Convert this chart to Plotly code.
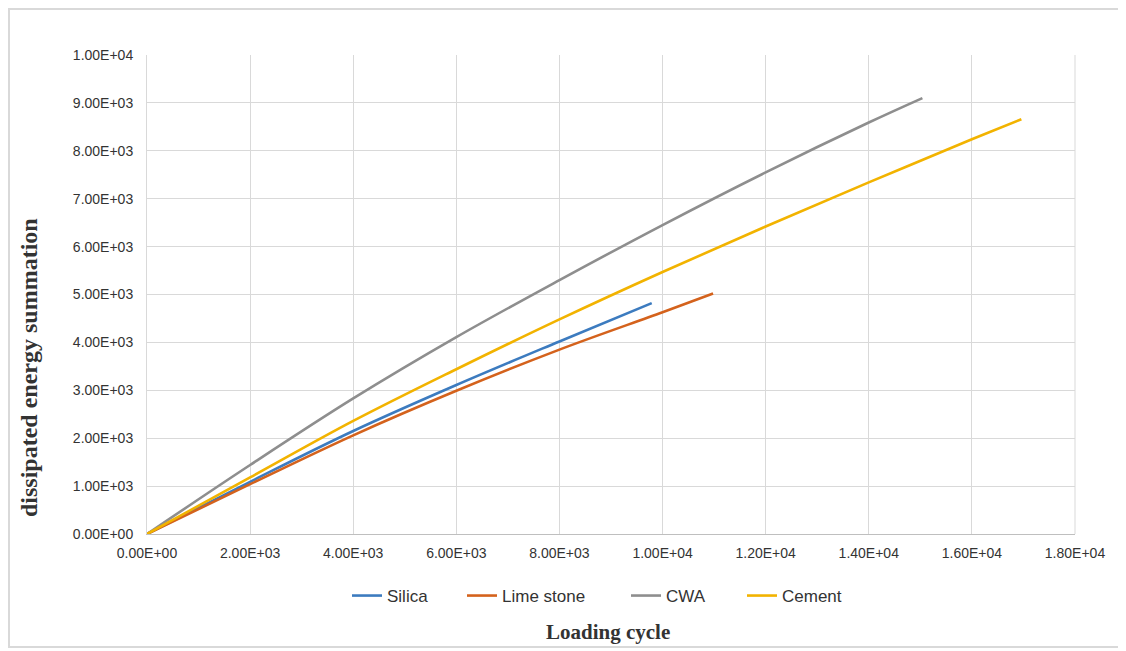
import plotly.graph_objects as go

# Data
silica_x = [0, 2000, 4000, 6000, 8000, 9790]
silica_y = [0, 1090, 2150, 3110, 4020, 4820]

lime_x = [0, 2000, 4000, 6000, 8000, 10000, 10980]
lime_y = [0, 1040, 2060, 2990, 3850, 4630, 5020]

cwa_x = [0, 2000, 4000, 6000, 8000, 10000, 12000, 14000, 15040]
cwa_y = [0, 1440, 2830, 4110, 5300, 6450, 7550, 8590, 9100]

cement_x = [0, 2000, 4000, 6000, 8000, 10000, 12000, 14000, 16000, 16960]
cement_y = [0, 1180, 2360, 3440, 4480, 5470, 6420, 7340, 8240, 8660]

x_ticks = [0, 2000, 4000, 6000, 8000, 10000, 12000, 14000, 16000, 18000]
y_ticks = [0, 1000, 2000, 3000, 4000, 5000, 6000, 7000, 8000, 9000, 10000]

series = [
    ("Silica", silica_x, silica_y, "#3C7BBF"),
    ("Lime stone", lime_x, lime_y, "#D4621C"),
    ("CWA", cwa_x, cwa_y, "#8E8E8E"),
    ("Cement", cement_x, cement_y, "#F2B300"),
]

W, H = 1118, 643
L, R, T, B = 139, 51, 47, 117
PW = W - L - R
PH = H - T - B

def px(fx):
    return (fx - L) / PW

def py(fy):
    return (H - B - fy) / PH

legend_ids = ["legend", "legend2", "legend3", "legend4"]
legend_left = [345, 460, 624, 740]  # figure px where each legend entry starts

fig = go.Figure()
for (name, xs, ys, col), lid in zip(series, legend_ids):
    fig.add_trace(go.Scatter(x=xs, y=ys, mode="lines", name=name, legend=lid,
                             line=dict(color=col, width=2.6, shape="spline", smoothing=1.0)))

tick_font = dict(family="Liberation Sans, Arial, sans-serif", size=14, color="#333333")
leg_font = dict(family="Liberation Sans, Arial, sans-serif", size=17, color="#333333")
grid = "#d9d9d9"

legends = {}
for lid, lx in zip(legend_ids, legend_left):
    legends[lid] = dict(orientation="h", x=px(lx - 6), xanchor="left", y=py(588), yanchor="middle",
                        font=leg_font, bgcolor="rgba(0,0,0,0)", itemwidth=30)

fig.update_layout(
    width=W, height=H,
    margin=dict(l=L, r=R, t=T, b=B),
    paper_bgcolor="white", plot_bgcolor="white",
    showlegend=True,
    xaxis=dict(range=[0, 18000], tickvals=x_ticks,
               ticktext=[f"{v:.2E}" for v in x_ticks],
               showgrid=True, gridcolor=grid, gridwidth=1,
               showline=True, linecolor="#bfbfbf", linewidth=1,
               zeroline=False, ticks="outside", ticklen=6, tickcolor="rgba(0,0,0,0)",
               tickfont=tick_font, fixedrange=True),
    yaxis=dict(range=[0, 10000], tickvals=y_ticks,
               ticktext=[f"{v:.2E}" for v in y_ticks],
               showgrid=True, gridcolor=grid, gridwidth=1,
               showline=True, linecolor="#d9d9d9", linewidth=1,
               zeroline=False, ticks="outside", ticklen=10, tickcolor="rgba(0,0,0,0)",
               tickfont=tick_font, fixedrange=True),
    annotations=[
        dict(text="<b>Loading cycle</b>", xref="paper", yref="paper",
             x=px(600), y=py(624), xanchor="center", yanchor="middle",
             showarrow=False, font=dict(family="Liberation Serif, Times New Roman, serif", size=21, color="#333333")),
        dict(text="<b>dissipated energy summation</b>", xref="paper", yref="paper",
             x=px(21), y=py(360), xanchor="center", yanchor="middle",
             textangle=-90, showarrow=False,
             font=dict(family="Liberation Serif, Times New Roman, serif", size=24, color="#333333")),
    ],
    shapes=[
        dict(type="rect", xref="paper", yref="paper",
             x0=px(1), x1=px(W - 4), y0=py(H - 4), y1=py(1),
             line=dict(color="#d9d9d9", width=2), fillcolor="rgba(0,0,0,0)", layer="below"),
        dict(type="line", xref="paper", yref="paper", x0=1, x1=1, y0=0, y1=1,
             line=dict(color=grid, width=1)),
    ],
    **legends,
)

fig.write_html("out.html")
